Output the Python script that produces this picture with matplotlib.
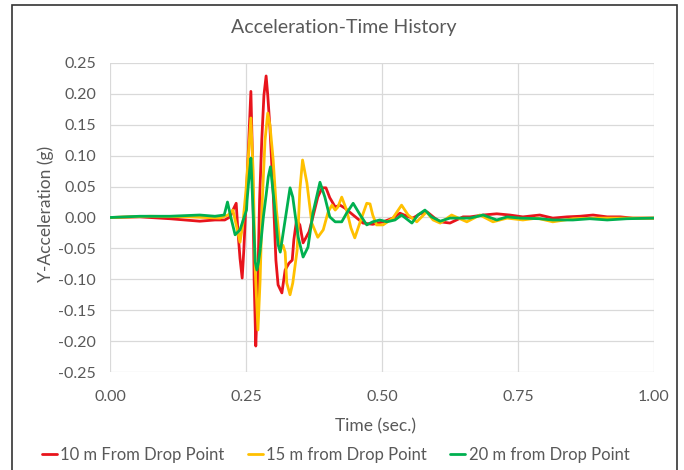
import matplotlib
matplotlib.use("Agg")
import matplotlib.pyplot as plt
from matplotlib.patches import Rectangle

plt.rcParams['font.family'] = ['Lato', 'DejaVu Sans']

title = "Acceleration-Time History"
xlabel = "Time (sec.)"
ylabel = "Y-Acceleration (g)"
series_names = ["10 m From Drop Point", "15 m from Drop Point", "20 m from Drop Point"]
series_colors = ["#E8141C", "#FFC000", "#00B050"]

t_10m = [0.000, 0.055, 0.110, 0.165, 0.193, 0.211, 0.221, 0.226, 0.232, 0.235, 0.239, 0.243,
         0.246, 0.252, 0.259, 0.262, 0.265, 0.268, 0.271, 0.275, 0.279, 0.283, 0.287, 0.290,
         0.294, 0.300, 0.305, 0.309, 0.316, 0.322, 0.329, 0.335, 0.338, 0.343, 0.349, 0.355,
         0.360, 0.366, 0.373, 0.382, 0.390, 0.397, 0.404, 0.414, 0.423, 0.432, 0.447, 0.465,
         0.483, 0.502, 0.520, 0.533, 0.546, 0.557, 0.570, 0.583, 0.597, 0.607, 0.625, 0.649,
         0.662, 0.686, 0.711, 0.735, 0.759, 0.790, 0.814, 0.840, 0.864, 0.888, 0.914, 0.938,
         0.961, 1.000]
a_10m = [0.000, 0.001, -0.002, -0.006, -0.004, -0.004, 0.001, 0.012, 0.023, -0.020, -0.066, -0.098,
         -0.053, 0.061, 0.204, 0.093, -0.101, -0.208, -0.133, 0.028, 0.125, 0.198, 0.229, 0.198,
         0.146, 0.040, -0.069, -0.109, -0.122, -0.085, -0.074, -0.069, -0.036, -0.004, -0.012, -0.041,
         -0.033, -0.023, 0.001, 0.033, 0.048, 0.048, 0.032, 0.017, 0.020, 0.015, 0.004, -0.009,
         -0.011, -0.007, -0.001, 0.007, 0.002, -0.001, 0.006, 0.009, -0.001, -0.007, -0.009, 0.001,
         0.001, 0.004, 0.006, 0.004, 0.001, 0.004, -0.001, 0.001, 0.002, 0.004, 0.001, 0.001,
         -0.001, -0.001]

t_15m = [0.000, 0.074, 0.147, 0.202, 0.217, 0.226, 0.232, 0.239, 0.244, 0.250, 0.259, 0.263,
         0.267, 0.272, 0.276, 0.280, 0.285, 0.290, 0.294, 0.300, 0.306, 0.311, 0.313, 0.318,
         0.322, 0.325, 0.331, 0.336, 0.344, 0.349, 0.354, 0.362, 0.371, 0.382, 0.392, 0.401,
         0.408, 0.414, 0.419, 0.426, 0.435, 0.443, 0.450, 0.460, 0.472, 0.478, 0.483, 0.490,
         0.502, 0.520, 0.536, 0.548, 0.564, 0.582, 0.594, 0.607, 0.628, 0.656, 0.680, 0.704,
         0.730, 0.759, 0.785, 0.814, 0.851, 0.895, 0.938, 1.000]
a_15m = [0.000, 0.002, 0.001, -0.001, 0.004, 0.012, -0.012, -0.040, -0.012, 0.044, 0.161, 0.077,
         -0.085, -0.182, -0.101, 0.028, 0.125, 0.169, 0.150, 0.093, 0.012, -0.032, -0.053, -0.045,
         -0.056, -0.106, -0.125, -0.106, -0.053, 0.044, 0.093, 0.056, -0.009, -0.032, -0.020, 0.009,
         0.020, 0.012, 0.017, 0.033, 0.012, -0.017, -0.033, -0.007, 0.023, 0.022, 0.004, -0.012,
         -0.012, -0.001, 0.020, 0.004, -0.007, 0.009, -0.004, -0.009, 0.004, -0.007, 0.004, -0.007,
         -0.001, -0.004, -0.001, -0.007, -0.002, -0.001, -0.001, -0.001]

t_20m = [0.000, 0.055, 0.110, 0.165, 0.193, 0.210, 0.216, 0.222, 0.230, 0.239, 0.251, 0.252,
         0.256, 0.259, 0.263, 0.267, 0.270, 0.273, 0.276, 0.282, 0.287, 0.291, 0.295, 0.302,
         0.309, 0.313, 0.322, 0.331, 0.336, 0.346, 0.355, 0.364, 0.373, 0.386, 0.395, 0.404,
         0.414, 0.426, 0.435, 0.447, 0.460, 0.472, 0.483, 0.496, 0.509, 0.524, 0.536, 0.555,
         0.566, 0.579, 0.591, 0.607, 0.625, 0.662, 0.686, 0.711, 0.730, 0.754, 0.790, 0.814,
         0.851, 0.882, 0.914, 0.950, 1.000]
a_20m = [0.000, 0.002, 0.002, 0.004, 0.002, 0.004, 0.025, 0.001, -0.028, -0.020, 0.012, 0.028,
         0.069, 0.096, 0.012, -0.072, -0.085, -0.072, -0.053, 0.001, 0.036, 0.066, 0.082, 0.023,
         -0.044, -0.056, -0.004, 0.048, 0.033, -0.032, -0.064, -0.048, 0.007, 0.057, 0.033, 0.001,
         -0.007, -0.007, 0.007, 0.023, 0.004, -0.012, -0.007, -0.004, -0.007, -0.004, 0.004, -0.009,
         0.004, 0.012, 0.001, -0.006, -0.001, -0.001, 0.004, -0.004, 0.001, -0.001, -0.002, -0.004,
         -0.004, -0.002, -0.004, -0.002, -0.001]

x_ticks = [0.00, 0.25, 0.50, 0.75, 1.00]
y_ticks = [0.25, 0.20, 0.15, 0.10, 0.05, 0.00, -0.05, -0.10, -0.15, -0.20, -0.25]

fig = plt.figure(figsize=(6.84, 4.70), dpi=100)
ax = fig.add_axes([0.1608, 0.2085, 0.7953, 0.6575])

for t, a, name, c in zip([t_10m, t_15m, t_20m], [a_10m, a_15m, a_20m], series_names, series_colors):
    ax.plot(t, a, color=c, lw=2.0, label=name, solid_joinstyle='round', solid_capstyle='round')

ax.set_xlim(0, 1)
ax.set_ylim(-0.25, 0.25)
ax.set_xticks(x_ticks)
ax.set_xticklabels([f"{v:.2f}" for v in x_ticks])
ax.set_yticks(y_ticks)
ax.set_yticklabels([f"{v:.2f}" for v in y_ticks])
ax.grid(True, color="#D9D9D9", lw=0.9)
ax.set_axisbelow(True)
for s in ax.spines.values():
    s.set_visible(False)
ax.tick_params(length=0, labelsize=11.5, labelcolor="#595959")
ax.tick_params(axis='x', pad=13)
ax.tick_params(axis='y', pad=10)
ax.set_xlabel(xlabel, fontsize=12.5, color="#595959")
ax.xaxis.set_label_coords(0.489, -0.149)
ax.set_ylabel(ylabel, fontsize=12.5, color="#595959", va='center')
ax.yaxis.set_label_coords(-0.119, 0.51)
fig.text(0.503, 1 - 27 / 470, title, ha='center', va='center', fontsize=14, color="#595959")

fig.legend(loc='center', bbox_to_anchor=(0.491, 1 - 455 / 470), ncol=3, frameon=False,
           fontsize=12, handlelength=0.9, handletextpad=0.2, columnspacing=1.4,
           labelcolor="#595959")

fig.patches.append(Rectangle((12 / 684, -0.1), (677 - 12) / 684, 1.1 - 5 / 470,
                             transform=fig.transFigure, fill=False, edgecolor="#333333", lw=1.2))

fig.savefig("out.png", dpi=100)
